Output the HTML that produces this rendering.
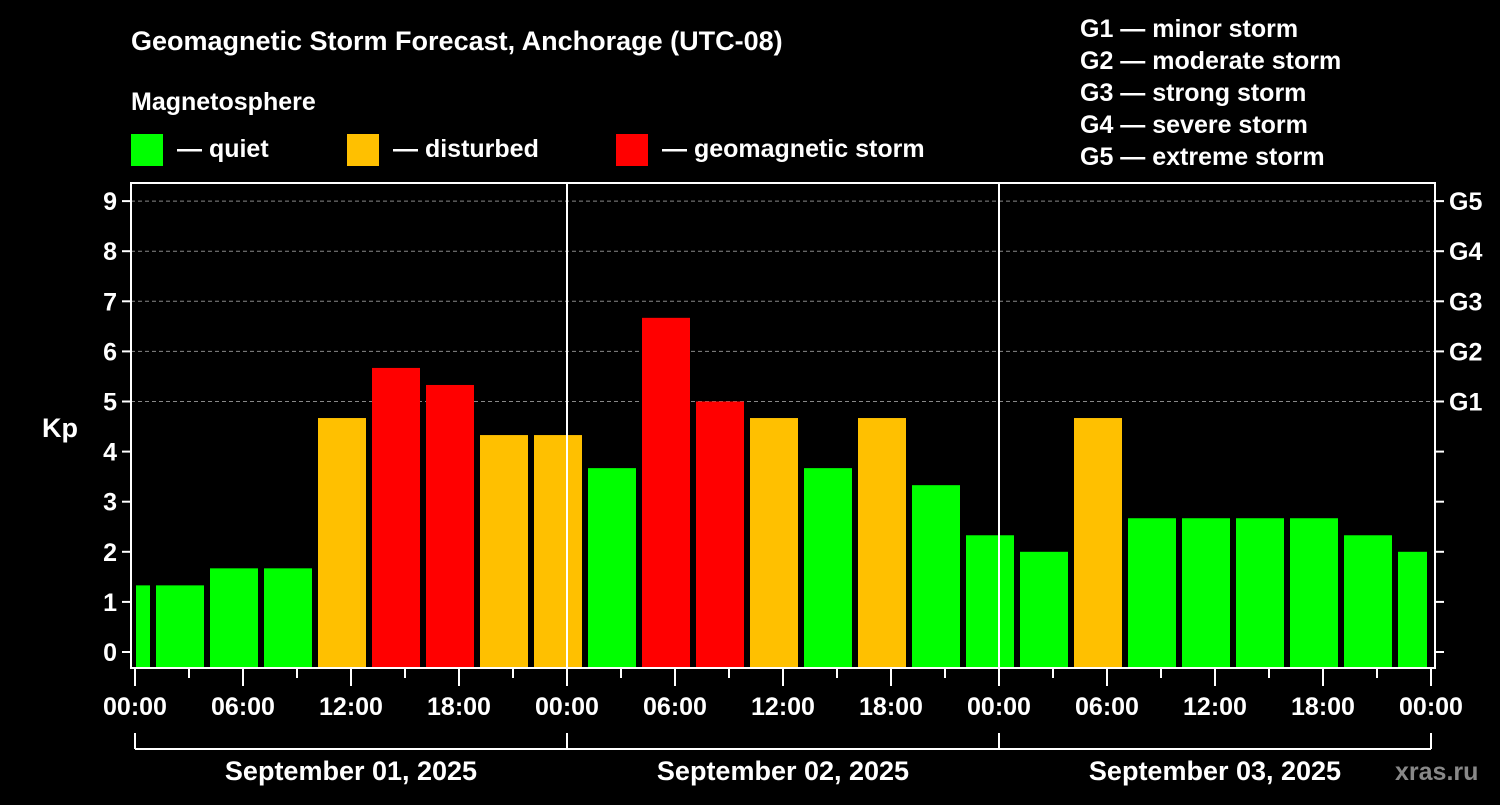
<!DOCTYPE html>
<html><head><meta charset="utf-8"><style>
body{margin:0;background:#000;width:1500px;height:800px;overflow:hidden}
text{font-family:"Liberation Sans",Arial,sans-serif;font-weight:bold;fill:#fff}
</style></head><body>
<svg id="chart" width="1500" height="800" xmlns="http://www.w3.org/2000/svg">
<rect width="1500" height="800" fill="#000"/>
<text x="131" y="50" font-size="27">Geomagnetic Storm Forecast, Anchorage (UTC-08)</text>
<text x="131" y="110" font-size="25">Magnetosphere</text>
<g><rect x="131" y="134" width="32" height="32" fill="#00ff00"/><text x="177" y="157" font-size="25">— quiet</text></g>
<g><rect x="347" y="134" width="32" height="32" fill="#ffc000"/><text x="393" y="157" font-size="25">— disturbed</text></g>
<g><rect x="616" y="134" width="32" height="32" fill="#ff0000"/><text x="662" y="157" font-size="25">— geomagnetic storm</text></g>
<g font-size="25">
<text x="1080" y="37">G1 — minor storm</text>
<text x="1080" y="69">G2 — moderate storm</text>
<text x="1080" y="101">G3 — strong storm</text>
<text x="1080" y="133">G4 — severe storm</text>
<text x="1080" y="165">G5 — extreme storm</text>
</g>
<text x="42" y="437" font-size="27">Kp</text>
<text x="1395" y="780" font-size="25" style="fill:#888">xras.ru</text>
<g id="grid"></g><g id="bars"></g><g id="axes"></g>
</svg>
<script>
const kpValues=[1.33,1.33,1.67,1.67,4.67,5.67,5.33,4.33,4.33,3.67,6.67,5,4.67,3.67,4.67,3.33,2.33,2,4.67,2.67,2.67,2.67,2.67,2.33,2];
const binStartHours=[-2,1,4,7,10,13,16,19,22,25,28,31,34,37,40,43,46,49,52,55,58,61,64,67,70];
const yTicks=[0,1,2,3,4,5,6,7,8,9];
const gLabels=["G1","G2","G3","G4","G5"];
const dayLabels=["September 01, 2025","September 02, 2025","September 03, 2025"];
const hourLabels=["00:00","06:00","12:00","18:00"];
const NS="http://www.w3.org/2000/svg";
const L=131,R=1435,T=183,B=668,X0=135,pxH=18,maxH=72;
const x=h=>X0+h*pxH, y=k=>652-k*50.1;
function mk(p,tag,a){const e=document.createElementNS(NS,tag);for(const k in a)e.setAttribute(k,a[k]);p.appendChild(e);return e;}
const grid=document.getElementById('grid'),bars=document.getElementById('bars'),axes=document.getElementById('axes');
yTicks.forEach(k=>{if(k>=5){const l=mk(grid,'line',{x1:L,x2:R,y1:y(k),y2:y(k),stroke:'#888','stroke-dasharray':'4,3','stroke-width':1});

}});
kpValues.forEach((v,i)=>{const s=Math.max(binStartHours[i],0),e=Math.min(binStartHours[i]+3,maxH);
let x1=x(s)+(binStartHours[i]>=0?3:1),x2=x(e)-(binStartHours[i]+3<=maxH?3:4);
const c=v>=5?'#ff0000':(v>=4?'#ffc000':'#00ff00');
const r=mk(bars,'rect',{x:x1,y:y(v),width:x2-x1,height:B-y(v),fill:c});

});
const fr=mk(axes,'rect',{x:L,y:T,width:R-L,height:B-T,fill:'none',stroke:'#fff','stroke-width':2});


[1,2].forEach(d=>{const l=mk(axes,'line',{x1:x(24*d),x2:x(24*d),y1:T,y2:B,stroke:'#fff','stroke-width':2});

});
yTicks.forEach(k=>{mk(axes,'line',{x1:L-9,x2:L,y1:y(k),y2:y(k),stroke:'#fff','stroke-width':2});
mk(axes,'line',{x1:R,x2:R+9,y1:y(k),y2:y(k),stroke:'#fff','stroke-width':2});
const t=mk(axes,'text',{x:L-14,y:y(k)+9,'text-anchor':'end','font-size':25});t.textContent=k;


if(k>=5){const g=mk(axes,'text',{x:R+14,y:y(k)+9,'font-size':25});g.textContent=gLabels[k-5];

}});
for(let h=0;h<=maxH;h+=3){const major=h%6===0;mk(axes,'line',{x1:x(h),x2:x(h),y1:B,y2:B+(major?18:10),stroke:'#fff','stroke-width':2});
if(major){const t=mk(axes,'text',{x:x(h),y:B+47,'text-anchor':'middle','font-size':25});t.textContent=hourLabels[(h/6)%4];

}}
mk(axes,'line',{x1:x(0),x2:x(maxH),y1:749,y2:749,stroke:'#fff','stroke-width':2});
[0,24,48,72].forEach(h=>mk(axes,'line',{x1:x(h),x2:x(h),y1:733,y2:749,stroke:'#fff','stroke-width':2}));
dayLabels.forEach((d,i)=>{const t=mk(axes,'text',{x:x(24*i+12),y:780,'text-anchor':'middle','font-size':27});t.textContent=d;

});
</script>
</body></html>
